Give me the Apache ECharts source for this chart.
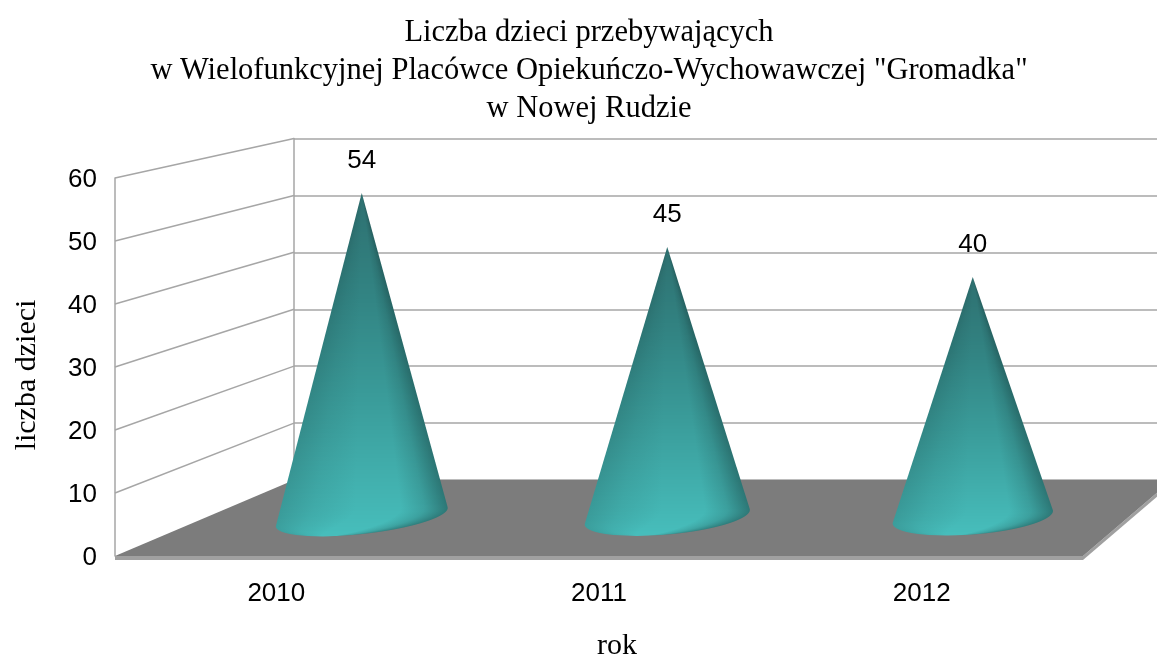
<!DOCTYPE html>
<html>
<head>
<meta charset="utf-8">
<title>Liczba dzieci</title>
<script src="https://cdn.jsdelivr.net/npm/echarts@6/dist/echarts.min.js"></script>
<style>
  html, body { margin: 0; padding: 0; background: #fff; }
  #chart { width: 1157px; height: 655px; }
</style>
</head>
<body>
<div id="chart"></div>
<script>
const titleLines = ['Liczba dzieci przebywających', 'w Wielofunkcyjnej Placówce Opiekuńczo-Wychowawczej "Gromadka"', 'w Nowej Rudzie'];
const years = ['2010', '2011', '2012'];
const counts = [54, 45, 40];
const wallTicks = [10, 20, 30, 40, 50, 60];

// the fake 3d box: front plane has the labels, back plane the wall lines, cones stand between them
const frontGrid = { left: 115, top: 178, width: 968, height: 378, outerBoundsMode: 'none' };
const backGrid = { left: 294, top: 138.5, width: 878, height: 341.5, outerBoundsMode: 'none' };
const coneGrid = { left: 209, top: 157, width: 916.5, height: 360, outerBoundsMode: 'none' };
// base ellipse of each cone, they get flatter to the right
const coneBases = [
  { rx: 86.5, ry: 17, tilt: -6.3 },
  { rx: 83, ry: 17.5, tilt: -5.2 },
  { rx: 80.5, ry: 17.5, tilt: -4.6 }
];
// shading of a cone: top to bottom colours, and left to right brightness
const coneRows = [[0, [46, 112, 112]], [0.3, [50, 132, 131]], [0.6, [58, 156, 154]], [1, [71, 190, 188]]];
const coneCols = [[0, 0.84], [0.2, 0.93], [0.45, 1], [0.72, 1], [0.86, 0.87], [1, 0.64]];

const serif = '"Liberation Serif", serif';
const sans = '"Liberation Sans", sans-serif';
const lineColor = '#a6a6a6';

const hiddenAxis = { show: false };

function renderFloor(params) {
  const c = params.coordSys;
  const fx = c.x, fr = c.x + c.width, fy = c.y + c.height;
  const bx = backGrid.left, br = backGrid.left + backGrid.width, by = backGrid.top + backGrid.height;
  return {
    type: 'group',
    children: [
      { type: 'polygon', shape: { points: [[fx, fy], [fr, fy], [fr, fy + 4], [fx, fy + 4]] }, style: { fill: '#a0a0a0' } },
      { type: 'polygon', shape: { points: [[fr, fy], [br, by], [br, by + 4], [fr, fy + 4]] }, style: { fill: '#a0a0a0' } },
      { type: 'polygon', shape: { points: [[fx, fy], [bx, by], [br, by], [fr, fy]] }, style: { fill: '#7c7c7c' } }
    ]
  };
}

function renderDiagonal(params, api) {
  const v = api.value(1);
  const front = api.coord([0, v]);
  const backY = backGrid.top + backGrid.height * (1 - v / 60);
  return {
    type: 'line',
    shape: { x1: params.coordSys.x, y1: front[1], x2: backGrid.left, y2: backY },
    style: { stroke: lineColor, lineWidth: 1.5 }
  };
}

function rowColor(v) {
  for (let i = 1; i < coneRows.length; i++) {
    if (v <= coneRows[i][0]) {
      const a = coneRows[i - 1], b = coneRows[i];
      const k = (v - a[0]) / (b[0] - a[0]);
      return a[1].map((c, n) => c + (b[1][n] - c) * k);
    }
  }
  return coneRows[coneRows.length - 1][1];
}

// left and right x of an outline at height y
function scan(outline, y) {
  let lo = Infinity, hi = -Infinity;
  for (let i = 0; i < outline.length; i++) {
    const p = outline[i], q = outline[(i + 1) % outline.length];
    if ((p[1] <= y && q[1] >= y) || (q[1] <= y && p[1] >= y)) {
      const x = p[1] === q[1] ? p[0] : p[0] + (q[0] - p[0]) * (y - p[1]) / (q[1] - p[1]);
      lo = Math.min(lo, x);
      hi = Math.max(hi, x);
    }
  }
  return [lo, hi];
}

function renderCone(params, api) {
  const top = api.coord([api.value(0), api.value(1)]);
  const base = api.coord([api.value(0), 0]);
  const b = coneBases[params.dataIndex];
  const t = b.tilt * Math.PI / 180;
  const outline = [top];
  // lower half of the tilted ellipse, left to right
  for (let i = 0; i <= 64; i++) {
    const a = Math.PI - Math.PI * i / 64;
    const ex = b.rx * Math.cos(a), ey = b.ry * Math.sin(a);
    outline.push([base[0] + ex * Math.cos(t) - ey * Math.sin(t), base[1] + ex * Math.sin(t) + ey * Math.cos(t)]);
  }
  const bottom = Math.max.apply(null, outline.map(p => p[1]));
  const children = [];
  // one row of pixels at a time, thin wedges from the apex gave moire
  for (let y = Math.round(top[1]); y < bottom; y++) {
    const y2 = Math.min(y + 1, bottom);
    const s1 = scan(outline, y), s2 = scan(outline, y2);
    const v = (y - top[1]) / (bottom - top[1]);
    const rgb = rowColor(v);
    // the side shadow is weaker near the tip
    const stops = coneCols.map(c => {
      const s = 1 - (1 - c[1]) * (0.55 + 0.45 * v);
      return { offset: c[0], color: 'rgb(' + rgb.map(n => Math.round(n * s)).join(',') + ')' };
    });
    children.push({
      type: 'polygon',
      shape: { points: [[s1[0], y], [s1[1], y], [s2[1], y2], [s2[0], y2]] },
      style: { fill: new echarts.graphic.LinearGradient(0, 0, 1, 0, stops) }
    });
  }
  children.push({
    type: 'text',
    style: {
      x: top[0], y: top[1] - 32, text: String(api.value(1)),
      font: '26px ' + sans, fill: '#000', align: 'center', verticalAlign: 'middle'
    }
  });
  return { type: 'group', children: children };
}

const chart = echarts.init(document.getElementById('chart'), null, { renderer: 'canvas' });

chart.setOption({
  animation: false,
  backgroundColor: '#fff',
  title: {
    text: titleLines.join('\n'),
    left: 584,
    top: 9,
    textAlign: 'center',
    textStyle: { fontFamily: serif, fontSize: 30.5, fontWeight: 'normal', color: '#000', lineHeight: 38, align: 'center' }
  },
  grid: [frontGrid, backGrid, coneGrid],
  xAxis: [
    {
      type: 'category', gridIndex: 0, data: years,
      axisLine: { show: false }, axisTick: { show: false },
      axisLabel: { color: '#000', fontFamily: sans, fontSize: 26, margin: 25 },
      name: 'rok', nameLocation: 'middle', nameGap: 75,
      nameTextStyle: { color: '#000', fontFamily: serif, fontSize: 30, padding: [0, 0, 0, 36] }
    },
    Object.assign({ type: 'category', gridIndex: 1, data: years }, hiddenAxis),
    Object.assign({ type: 'category', gridIndex: 2, data: years }, hiddenAxis)
  ],
  yAxis: [
    {
      type: 'value', gridIndex: 0, min: 0, max: 60, interval: 10,
      axisLine: { show: true, lineStyle: { color: lineColor, width: 1.5 } },
      axisTick: { show: false }, splitLine: { show: false },
      // padding only moves the text when it is top aligned
      axisLabel: { color: '#000', fontFamily: sans, fontSize: 26, margin: 18, verticalAlign: 'top', lineHeight: 26, padding: [-11, 0, 0, 0] },
      name: 'liczba dzieci', nameLocation: 'middle', nameGap: 73,
      nameTextStyle: { color: '#000', fontFamily: serif, fontSize: 30, padding: [0, 16, 0, 0] }
    },
    {
      type: 'value', gridIndex: 1, min: 0, max: 60, interval: 10,
      axisLine: { show: true, lineStyle: { color: lineColor, width: 1.5 } },
      axisTick: { show: false }, axisLabel: { show: false },
      splitLine: { show: true, lineStyle: { color: lineColor, width: 1.5 } }
    },
    Object.assign({ type: 'value', gridIndex: 2, min: 0, max: 60 }, hiddenAxis)
  ],
  series: [
    {
      type: 'custom', xAxisIndex: 0, yAxisIndex: 0, z: 2, silent: true,
      data: wallTicks.map(v => [0, v]),
      renderItem: renderDiagonal
    },
    {
      type: 'custom', xAxisIndex: 0, yAxisIndex: 0, z: 3, silent: true,
      data: [[0, 0]],
      renderItem: renderFloor
    },
    {
      type: 'custom', xAxisIndex: 2, yAxisIndex: 2, z: 4, silent: true,
      data: counts.map((v, i) => [i, v]),
      renderItem: renderCone
    }
  ]
});
</script>
</body>
</html>
